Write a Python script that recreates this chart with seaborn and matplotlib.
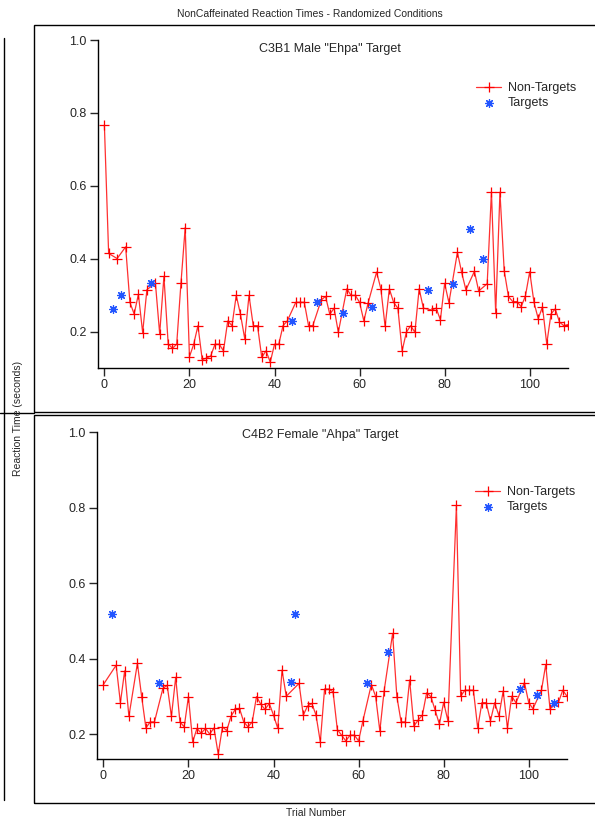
import matplotlib
matplotlib.use("Agg")
import matplotlib.pyplot as plt
import seaborn as sns
from matplotlib.patches import Rectangle
from matplotlib.lines import Line2D

# C3B1 Male "Ehpa" Target (top panel)
top_nt_trial = [0, 1, 3, 5, 6, 7, 8, 9, 10, 12, 13, 14, 15, 16, 17, 18, 19, 20, 21, 22,
                23, 24, 25, 26, 27, 28, 29, 30, 31, 32, 33, 34, 35, 36, 37, 38, 39, 40, 41,
                42, 43, 45, 46, 47, 48, 49, 51, 52, 53, 54, 55, 57, 58, 59, 60, 61, 62, 64,
                65, 66, 67, 68, 69, 70, 71, 72, 73, 74, 75, 77, 78, 79, 80, 81, 83, 84, 85,
                87, 88, 90, 91, 92, 93, 94, 95, 96, 97, 98, 99, 100, 101, 102, 103, 104,
                105, 106, 107, 108, 109]
top_nt_rt = [0.767, 0.415, 0.401, 0.433, 0.281, 0.249, 0.303, 0.198, 0.316, 0.333, 0.195,
             0.352, 0.167, 0.155, 0.166, 0.333, 0.486, 0.132, 0.166, 0.217, 0.124, 0.128,
             0.134, 0.166, 0.166, 0.148, 0.230, 0.217, 0.300, 0.248, 0.181, 0.300, 0.217,
             0.217, 0.130, 0.148, 0.117, 0.166, 0.166, 0.217, 0.230, 0.281, 0.281, 0.281,
             0.217, 0.217, 0.288, 0.297, 0.248, 0.265, 0.199, 0.318, 0.300, 0.300, 0.281,
             0.230, 0.279, 0.364, 0.318, 0.215, 0.318, 0.281, 0.265, 0.148, 0.199, 0.217,
             0.199, 0.318, 0.265, 0.260, 0.265, 0.233, 0.333, 0.280, 0.418, 0.363, 0.315,
             0.366, 0.312, 0.332, 0.584, 0.251, 0.583, 0.368, 0.297, 0.283, 0.283, 0.269,
             0.299, 0.365, 0.281, 0.236, 0.269, 0.167, 0.249, 0.263, 0.227, 0.217, 0.220]
top_t_trial = [2, 4, 11, 44, 50, 56, 63, 76, 82, 86, 89]
top_t_rt = [0.263, 0.300, 0.333, 0.230, 0.281, 0.251, 0.267, 0.315, 0.332, 0.481, 0.399]

# C4B2 Female "Ahpa" Target (bottom panel)
bot_nt_trial = [0, 3, 4, 5, 6, 8, 9, 10, 11, 12, 14, 15, 16, 17, 18, 19, 20, 21, 22, 23,
                24, 25, 26, 27, 28, 29, 30, 31, 32, 33, 34, 35, 36, 37, 38, 39, 40, 41, 42,
                43, 46, 47, 48, 49, 50, 51, 52, 53, 54, 55, 56, 57, 58, 59, 60, 61, 63, 64,
                65, 66, 68, 69, 70, 71, 72, 73, 74, 75, 76, 77, 78, 79, 80, 81, 83, 84, 85,
                86, 87, 88, 89, 90, 91, 92, 93, 94, 95, 96, 97, 99, 100, 101, 103, 104, 105,
                107, 108, 109]
bot_nt_rt = [0.332, 0.383, 0.284, 0.368, 0.248, 0.388, 0.300, 0.217, 0.233, 0.233, 0.322,
             0.330, 0.248, 0.351, 0.233, 0.220, 0.300, 0.180, 0.216, 0.203, 0.216, 0.201,
             0.217, 0.148, 0.220, 0.210, 0.248, 0.266, 0.269, 0.233, 0.220, 0.233, 0.300,
             0.280, 0.266, 0.282, 0.251, 0.216, 0.370, 0.301, 0.335, 0.251, 0.275, 0.282,
             0.251, 0.180, 0.320, 0.320, 0.313, 0.213, 0.198, 0.183, 0.198, 0.198, 0.183,
             0.235, 0.332, 0.301, 0.209, 0.315, 0.467, 0.300, 0.233, 0.233, 0.344, 0.222,
             0.238, 0.251, 0.310, 0.300, 0.264, 0.227, 0.285, 0.236, 0.806, 0.301, 0.317,
             0.317, 0.317, 0.217, 0.284, 0.284, 0.236, 0.284, 0.249, 0.315, 0.217, 0.301,
             0.284, 0.337, 0.284, 0.268, 0.317, 0.385, 0.268, 0.285, 0.317, 0.301]
bot_t_trial = [2, 13, 44, 45, 62, 67, 98, 102, 106]
bot_t_rt = [0.519, 0.335, 0.339, 0.519, 0.337, 0.417, 0.319, 0.304, 0.284]

yticks = [0.2, 0.4, 0.6, 0.8, 1.0]
xticks = [0, 20, 40, 60, 80, 100]

sns.set_style("ticks")
plt.rcParams["font.family"] = ["Liberation Sans", "DejaVu Sans"]

W, H = 595, 821
fig = plt.figure(figsize=(W / 100, H / 100), dpi=100)


def px_axes(x0, x1, y0, y1):
    return fig.add_axes([x0 / W, 1 - y1 / H, (x1 - x0) / W, (y1 - y0) / H])


ax1 = px_axes(98, 568, 40, 368)
ax2 = px_axes(97, 567, 432, 759)


def panel(ax, nt_x, nt_y, t_x, t_y, title, tx, ty, ymin, xmax, leg_xy):
    sns.lineplot(x=nt_x, y=nt_y, ax=ax, color="#ff3030", lw=0.9, marker="+",
                 markersize=6.5, mew=0.9, mec="#ff0000", estimator=None, sort=False,
                 label="Non-Targets")
    sns.scatterplot(x=t_x, y=t_y, ax=ax, color="#2255ff", marker=(8, 2, 0), s=32,
                    linewidth=0.9, label="Targets", zorder=3)
    ax.set_xlim(-1.5, xmax)
    ax.set_ylim(ymin, 1.0)
    ax.set_yticks(yticks)
    ax.set_yticklabels([f"{v:.1f}" for v in yticks])
    ax.set_xticks(xticks)
    ax.set_xticklabels([str(v) for v in xticks])
    sns.despine(ax=ax)
    for s in ("left", "bottom"):
        ax.spines[s].set_linewidth(1.0)
        ax.spines[s].set_color("black")
    ax.tick_params(direction="out", length=6, width=1.0, labelsize=9, pad=2)
    ax.set_xlabel("")
    ax.set_ylabel("")
    ax.text(tx, ty, title, transform=ax.transAxes, ha="center", va="center",
            fontsize=9)
    ax.legend(loc="upper left", bbox_to_anchor=leg_xy, frameon=False, fontsize=9,
              handlelength=2.0, handletextpad=0.5, labelspacing=0.25,
              borderaxespad=0, borderpad=0)


panel(ax1, top_nt_trial, top_nt_rt, top_t_trial, top_t_rt,
      'C3B1 Male "Ehpa" Target', 0.494, 0.972, 0.101, 109.0, (0.805, 0.872))
panel(ax2, bot_nt_trial, bot_nt_rt, bot_t_trial, bot_t_rt,
      'C4B2 Female "Ahpa" Target', 0.474, 0.99, 0.135, 109.0, (0.805, 0.835))

fig.text(310 / W, 1 - 14 / H, "NonCaffeinated Reaction Times - Randomized Conditions",
         ha="center", va="center", fontsize=7.5)
fig.text(316 / W, 1 - 813 / H, "Trial Number", ha="center", va="center", fontsize=7.5)
fig.text(18 / W, 1 - 418 / H, "Reaction Time (seconds)", ha="center", va="center",
         rotation=90, fontsize=7.5)

# layout frames
for y0, y1 in ((25, 412), (415, 803)):
    fig.add_artist(Rectangle((34 / W, 1 - y1 / H), (W + 5 - 34) / W, (y1 - y0) / H,
                             transform=fig.transFigure, fill=False, lw=1.0,
                             ec="black"))
fig.add_artist(Line2D([4 / W, 4 / W], [1 - 38 / H, 1 - 800 / H],
                      transform=fig.transFigure, color="black", lw=1.0))
fig.add_artist(Line2D([0, 34 / W], [1 - 413 / H, 1 - 413 / H],
                      transform=fig.transFigure, color="black", lw=1.0))

fig.savefig("out.png", dpi=100)
